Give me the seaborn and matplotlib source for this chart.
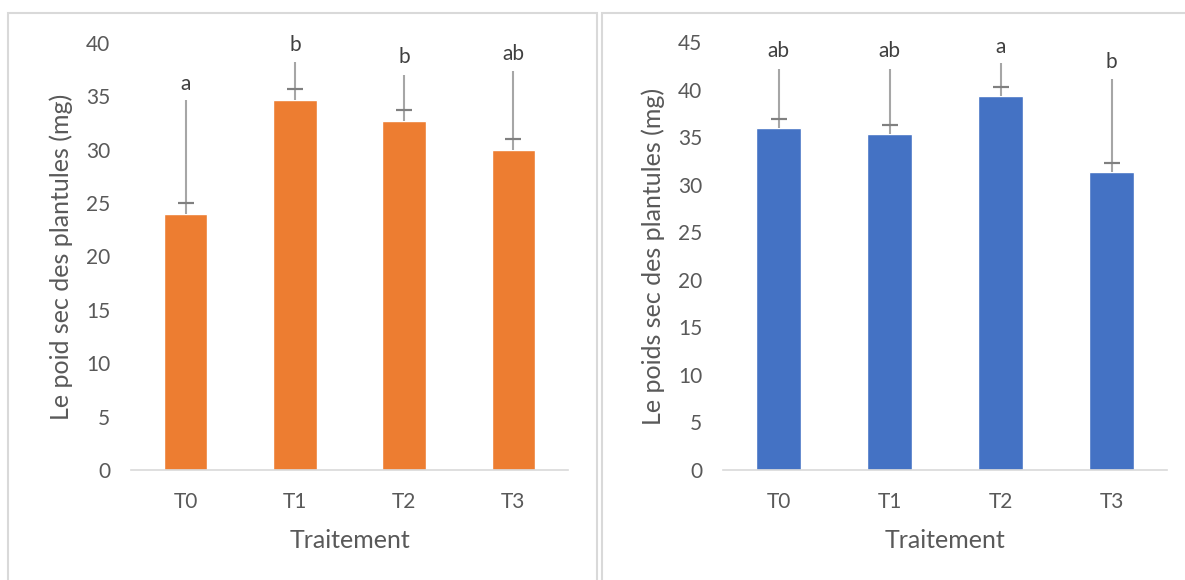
import pandas as pd
import matplotlib.pyplot as plt
import seaborn as sns
from matplotlib.patches import Rectangle

traitements = ["T0", "T1", "T2", "T3"]

# left chart (orange)
poid_sec = [24.0, 34.7, 32.7, 30.0]
err_gauche = [1.0, 1.0, 1.0, 1.05]
ligne_gauche = [34.7, 38.2, 37.0, 37.4]
lettres_gauche = ["a", "b", "b", "ab"]
pos_lettres_gauche = [36.2, 39.8, 38.7, 39.0]

# right chart (blue)
poids_sec = [36.0, 35.3, 39.3, 31.3]
err_droite = [0.95, 1.0, 1.0, 1.0]
ligne_droite = [42.2, 42.2, 42.8, 41.1]
lettres_droite = ["ab", "ab", "a", "b"]
pos_lettres_droite = [44.1, 44.1, 44.5, 42.9]

sns.set_style("white")
plt.rcParams['font.family'] = ['Lato', 'DejaVu Sans']
gris_txt = "#595959"

fig = plt.figure(figsize=(11.85, 5.8), dpi=100)

# panel frames
for x0, w in [(8 / 1185, 589 / 1185), (602 / 1185, 590 / 1185)]:
    fig.patches.append(Rectangle((x0, -0.05), w, 1 - 13 / 580 + 0.05, transform=fig.transFigure,
                                 fill=False, edgecolor="#d9d9d9", lw=1.5))


def panneau(rect, valeurs, err, lignes, lettres, pos_lettres, couleur, ymax, ylabel):
    ax = fig.add_axes(rect)
    df = pd.DataFrame({"Traitement": traitements, "val": valeurs})
    sns.barplot(data=df, x="Traitement", y="val", color=couleur, width=0.4,
                saturation=1, ax=ax, errorbar=None)
    x = range(len(traitements))
    ax.vlines(x, valeurs, lignes, color="#a6a6a6", lw=1.5, zorder=3)
    ax.errorbar(x, [v + e for v, e in zip(valeurs, err)], yerr=0, fmt="none",
                capsize=6, ecolor="#808080", elinewidth=0, capthick=1.5, zorder=4)
    for xi, l, p in zip(x, lettres, pos_lettres):
        ax.text(xi, p, l, ha="center", va="center", fontsize=15, color="#404040")
    ax.set_ylim(0, ymax)
    ax.set_xlim(-0.5, 3.5)
    ax.set_yticks(range(0, ymax + 1, 5))
    for s in ["top", "right", "left"]:
        ax.spines[s].set_visible(False)
    ax.spines["bottom"].set_color("#d9d9d9")
    ax.spines["bottom"].set_linewidth(1.2)
    ax.tick_params(axis="both", length=0, labelsize=15, colors=gris_txt)
    ax.tick_params(axis="y", pad=15)
    ax.tick_params(axis="x", pad=16)
    ax.set_xlabel("Traitement", fontsize=18, color=gris_txt, labelpad=12)
    ax.set_ylabel(ylabel, fontsize=18, color=gris_txt, labelpad=9)
    return ax


panneau([131 / 1185, 110 / 580, 437 / 1185, 427 / 580], poid_sec, err_gauche, ligne_gauche,
        lettres_gauche, pos_lettres_gauche, "#ED7D31", 40, "Le poid sec des plantules (mg)")
panneau([723 / 1185, 110 / 580, 444 / 1185, 428 / 580], poids_sec, err_droite, ligne_droite,
        lettres_droite, pos_lettres_droite, "#4472C4", 45, "Le poids sec des plantules (mg)")

fig.savefig("out.png", dpi=100)
